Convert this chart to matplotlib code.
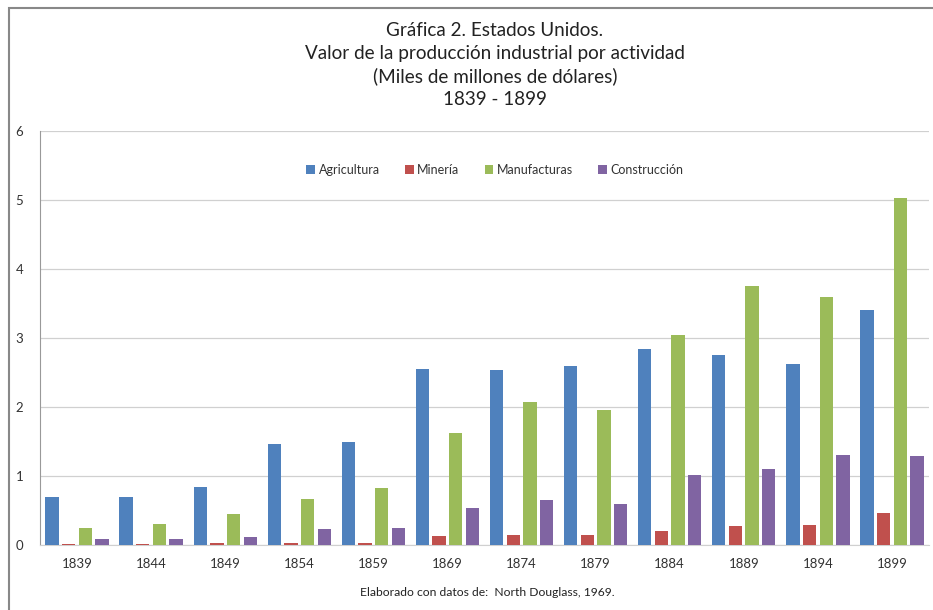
import numpy as np
import matplotlib
matplotlib.use('Agg')
import matplotlib.pyplot as plt
from matplotlib.patches import Rectangle

# datos (miles de millones de dólares)
years = ['1839', '1844', '1849', '1854', '1859', '1869', '1874', '1879', '1884', '1889', '1894', '1899']
agricultura = [0.70, 0.69, 0.84, 1.46, 1.50, 2.55, 2.53, 2.59, 2.84, 2.76, 2.63, 3.40]
mineria = [0.01, 0.01, 0.025, 0.03, 0.03, 0.13, 0.15, 0.15, 0.20, 0.275, 0.29, 0.47]
manufacturas = [0.24, 0.31, 0.445, 0.66, 0.83, 1.62, 2.07, 1.96, 3.05, 3.75, 3.60, 5.03]
construccion = [0.09, 0.09, 0.11, 0.23, 0.24, 0.54, 0.65, 0.59, 1.01, 1.10, 1.31, 1.29]

series = ['Agricultura', 'Minería', 'Manufacturas', 'Construcción']
colores = ['#4f81bd', '#c0504d', '#9bbb59', '#8064a2']

plt.rcParams['font.family'] = ['Lato', 'DejaVu Sans']

fig = plt.figure(figsize=(9.33, 6.10), dpi=100)
ax = fig.add_axes([40 / 933, 1 - 545 / 610, 889 / 933, 414 / 610])

# borde del área del gráfico (se sale por la derecha y por abajo)
fig.patches.append(Rectangle((8.5 / 933, -1), 2, 2 - 7.5 / 610, transform=fig.transFigure,
                             fill=False, edgecolor='#888888', lw=1.5))

x = np.arange(len(years))
paso = 0.225
ancho = 0.18
datos = [agricultura, mineria, manufacturas, construccion]
for i, (vals, nombre, c) in enumerate(zip(datos, series, colores)):
    ax.bar(x + (i - 1.5) * paso, vals, ancho, color=c, label=nombre, zorder=3)

ax.set_xlim(-0.5, len(years) - 0.5)
ax.set_ylim(0, 6)
ax.set_yticks(range(0, 7))
ax.set_xticks(x)
ax.set_xticklabels(years)
ax.tick_params(axis='both', length=0, labelsize=9.5, colors='#333333')
ax.tick_params(axis='x', pad=9)
ax.tick_params(axis='y', pad=12)
ax.grid(axis='y', color='#d0d0d0', lw=0.9, zorder=0)
for s in ['top', 'right']:
    ax.spines[s].set_visible(False)
ax.spines['left'].set_color('#999999')
ax.spines['bottom'].set_color('#d0d0d0')

leg = ax.legend(loc='center', bbox_to_anchor=(495 / 933, 1 - 170 / 610), bbox_transform=fig.transFigure,
                ncol=4, frameon=False, fontsize=9, handlelength=0.7, handleheight=0.7,
                handletextpad=0.3, columnspacing=2.0)
for t in leg.get_texts():
    t.set_color('#333333')

titulo = ['Gráfica 2. Estados Unidos.',
          'Valor de la producción industrial por actividad',
          '(Miles de millones de dólares)',
          '1839 - 1899']
for k, linea in enumerate(titulo):
    fig.text(495 / 933, 1 - (30 + 23.3 * k) / 610, linea, ha='center', va='center',
             fontsize=13.6, color='#222222')

fig.text(487 / 933, 1 - 593 / 610, 'Elaborado con datos de:  North Douglass, 1969.',
         ha='center', va='center', fontsize=8.7, color='#222222')

fig.savefig('out.png', dpi=100)
